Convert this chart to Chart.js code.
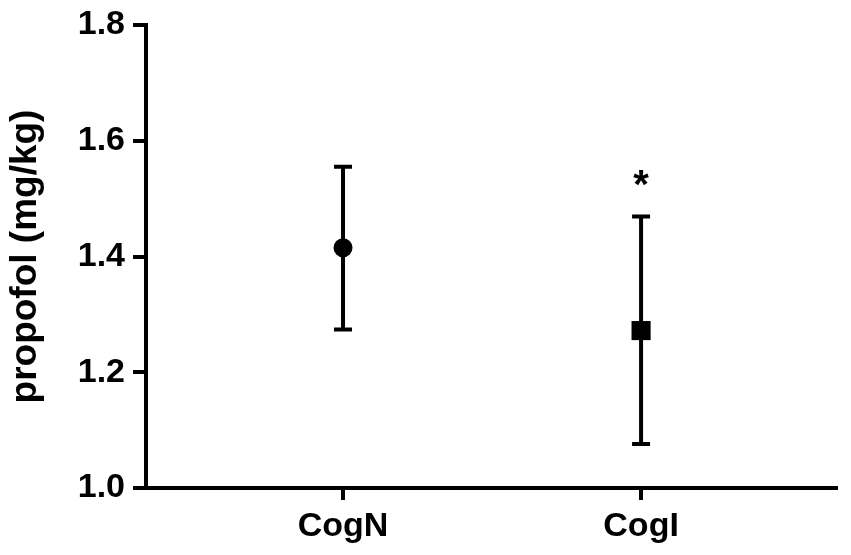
<!DOCTYPE html>
<html>
<head>
<meta charset="utf-8">
<script src="https://cdn.jsdelivr.net/npm/chart.js@4"></script>
<style>
  html, body { margin: 0; padding: 0; background: #fff; }
  #wrap { width: 851px; height: 555px; }
</style>
</head>
<body>
<div id="wrap"><canvas id="c"></canvas></div>
<script>
// values
const groups = ['CogN', 'CogI'];
const means = [1.415, 1.272];
const upper = [1.555, 1.469];
const lower = [1.274, 1.076];
const markers = ['circle', 'rect'];
const markerSize = [9.5, 13.5];
const marks = ['', '*'];
const yTicks = [1.0, 1.2, 1.4, 1.6, 1.8];

const FONT = "'Liberation Sans', Arial, sans-serif";

// error bars + significance marks
const errorBars = {
  id: 'errorBars',
  beforeDatasetsDraw(chart) {
    const ctx = chart.ctx;
    const xs = chart.scales.x, ys = chart.scales.y;
    ctx.save();
    ctx.strokeStyle = '#000';
    ctx.lineWidth = 4;
    groups.forEach((g, i) => {
      const x = xs.getPixelForValue(i);
      const yt = ys.getPixelForValue(upper[i]);
      const yb = ys.getPixelForValue(lower[i]);
      ctx.beginPath();
      ctx.moveTo(x, yt); ctx.lineTo(x, yb);
      ctx.moveTo(x - 9, yt); ctx.lineTo(x + 9, yt);
      ctx.moveTo(x - 9, yb); ctx.lineTo(x + 9, yb);
      ctx.stroke();
    });
    ctx.restore();
  },
  afterDatasetsDraw(chart) {
    const ctx = chart.ctx;
    const xs = chart.scales.x, ys = chart.scales.y;
    ctx.save();
    ctx.fillStyle = '#000';
    ctx.font = 'bold 40px ' + FONT;
    ctx.textAlign = 'center';
    ctx.textBaseline = 'middle';
    marks.forEach((m, i) => {
      if (!m) return;
      ctx.fillText(m, xs.getPixelForValue(i), ys.getPixelForValue(upper[i]) - 30);
    });
    ctx.restore();
  }
};

new Chart(document.getElementById('c'), {
  type: 'scatter',
  data: {
    datasets: [{
      data: means.map((m, i) => ({ x: i, y: m })),
      pointStyle: markers,
      pointRadius: markerSize,
      pointHoverRadius: markerSize,
      backgroundColor: '#000',
      borderColor: '#000',
      borderWidth: 0
    }]
  },
  options: {
    responsive: true,
    maintainAspectRatio: false,
    animation: false,
    events: [],
    layout: { padding: { top: 24, right: 15, left: 4, bottom: 0 } },
    plugins: { legend: { display: false }, tooltip: { enabled: false } },
    scales: {
      x: {
        type: 'linear',
        min: -0.661,
        max: 1.654,
        afterBuildTicks(scale) { scale.ticks = groups.map((g, i) => ({ value: i })); },
        afterFit(scale) { scale.height = 67; },
        border: { color: '#000', width: 4 },
        grid: { drawOnChartArea: false, color: '#000', lineWidth: 4, tickLength: 12 },
        ticks: {
          color: '#000',
          padding: 6,
          maxRotation: 0,
          font: { family: FONT, weight: 'bold', size: 34 },
          callback: (v) => groups[v] !== undefined ? groups[v] : ''
        }
      },
      y: {
        min: 1.0,
        max: 1.8,
        afterBuildTicks(scale) { scale.ticks = yTicks.map(v => ({ value: v })); },
        afterFit(scale) { scale.width = 142; },
        border: { color: '#000', width: 4 },
        grid: { drawOnChartArea: false, color: '#000', lineWidth: 4, tickLength: 13 },
        ticks: {
          color: '#000',
          padding: 8,
          font: { family: FONT, weight: 'bold', size: 34, lineHeight: 1.0 },
          callback: (v) => v.toFixed(1)
        },
        title: {
          display: true,
          text: 'propofol (mg/kg)',
          color: '#000',
          padding: { top: 0, bottom: 4 },
          font: { family: FONT, weight: 'bold', size: 37 }
        }
      }
    }
  },
  plugins: [errorBars]
});
</script>
</body>
</html>
